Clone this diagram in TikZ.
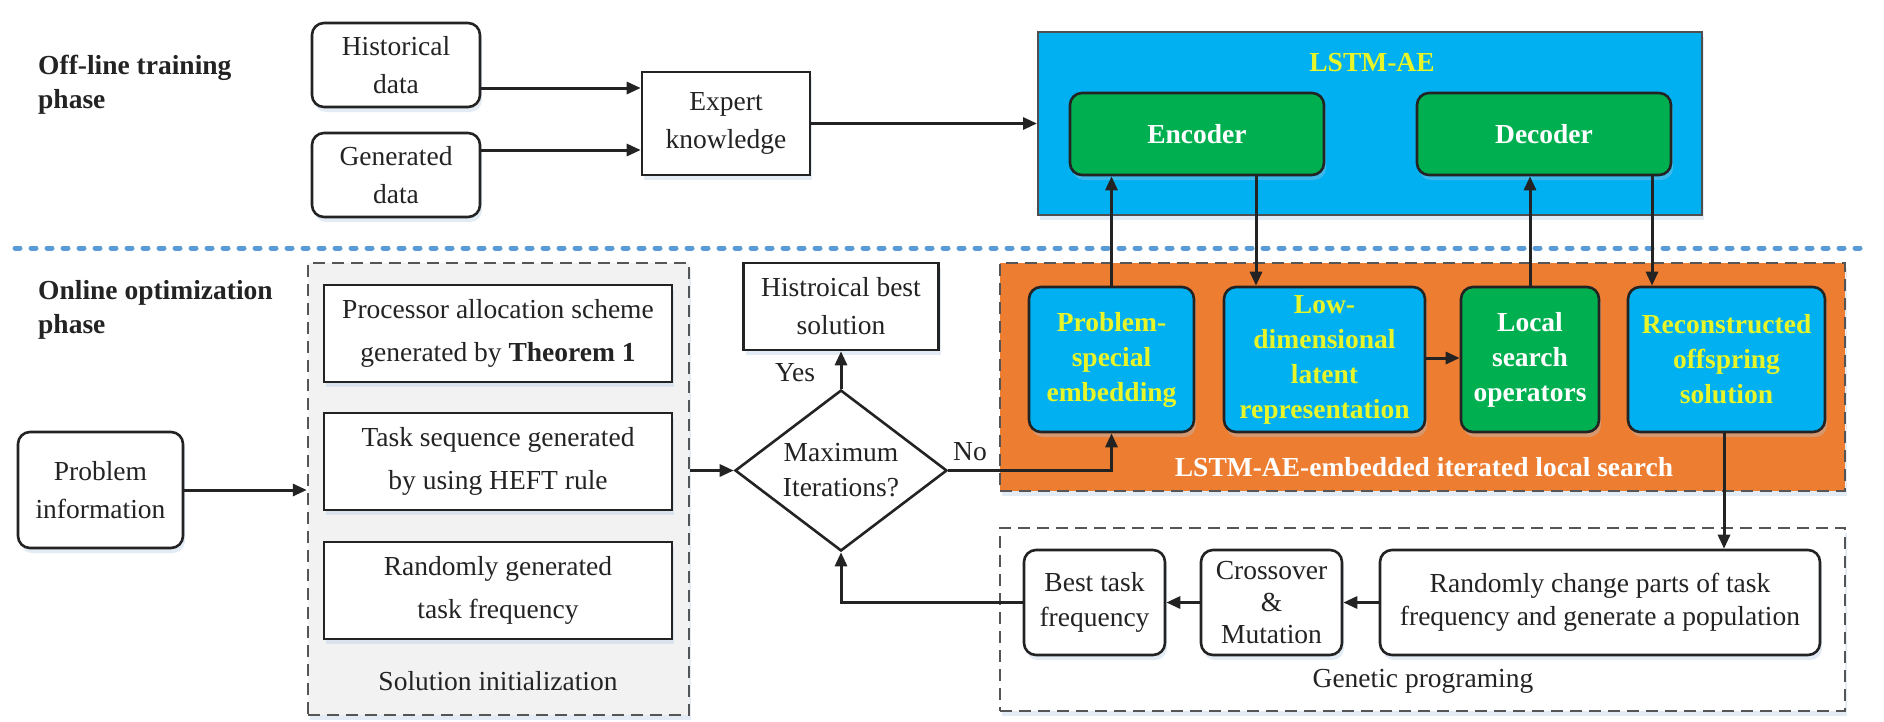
\documentclass[tikz,border=0pt]{standalone}
\usepackage{fontspec}
\setmainfont{Liberation Serif}
\usetikzlibrary{shapes.geometric,arrows.meta,shadows}

\definecolor{ink}{RGB}{35,35,35}
\definecolor{boxblue}{RGB}{0,176,240}
\definecolor{boxgreen}{RGB}{0,176,80}
\definecolor{boxorange}{RGB}{237,125,49}
\definecolor{labyellow}{RGB}{232,245,40}
\definecolor{sepblue}{RGB}{91,155,213}
\definecolor{panelgray}{RGB}{242,242,242}
\definecolor{dashgray}{RGB}{85,85,85}
\definecolor{shadowblue}{RGB}{175,200,228}

\begin{document}
\begin{tikzpicture}[x=1pt,y=-1pt,
  every node/.style={font=\fontsize{27.5}{38}\selectfont, text=ink, align=center, inner sep=0pt},
  softshadow/.style={drop shadow={shadow xshift=2pt,shadow yshift=-5pt,opacity=0.35,fill=shadowblue}},
  plainbox/.style={draw=ink, line width=2.6pt, fill=white, softshadow},
  rbox/.style={plainbox, rounded corners=12pt},
  colbox/.style={draw=ink, line width=2.6pt, rounded corners=12pt, softshadow,
                 font=\fontsize{27.5}{35}\selectfont\bfseries},
  panel/.style={draw=dashgray, line width=2.4pt, dash pattern=on 12pt off 7pt, softshadow},
  phase/.style={font=\fontsize{27.5}{34}\selectfont\bfseries, align=left, anchor=west},
  arr/.style={draw=ink, line width=3pt, -{Triangle[length=14pt,width=12pt]}},
  sepline/.style={draw=sepblue, line width=5pt, line cap=round, dash pattern=on 5pt off 11pt},
]
% canvas
\fill[white] (0,0) rectangle (1884,721);
\useasboundingbox (0,0) rectangle (1884,721);

% ---------- off-line training phase ----------
\node[phase] (offl) at (38,85) {Off-line training\\phase};
\node[rbox, minimum width=168pt, minimum height=84pt] (hist) at (396,65) {Historical\\data};
\node[rbox, minimum width=168pt, minimum height=84pt] (gen) at (396,175) {Generated\\data};
\node[plainbox, minimum width=168pt, minimum height=103pt] (expert) at (726,123.5) {Expert\\knowledge};

\node[draw=ink!80, line width=2pt, fill=boxblue, minimum width=664pt, minimum height=183pt, softshadow] (lstm) at (1370,123.5) {};
\node[text=labyellow, font=\fontsize{27.5}{34}\selectfont\bfseries] (lstmtitle) at (1372,63) {LSTM-AE};
\node[colbox, fill=boxgreen, text=white, minimum width=254pt, minimum height=82pt] (enc) at (1197,134) {Encoder};
\node[colbox, fill=boxgreen, text=white, minimum width=254pt, minimum height=82pt] (dec) at (1544,134) {Decoder};

% ---------- separator ----------
\coordinate (sepL) at (15,248);
\coordinate (sepR) at (1862,248);
\draw[sepline] (sepL) -- (sepR);

% ---------- online optimization phase ----------
\node[phase] (onl) at (38,309.5) {Online optimization\\phase};

\node[panel, fill=panelgray, minimum width=381pt, minimum height=452pt] (solinit) at (498.5,489) {};
\node[plainbox, minimum width=348pt, minimum height=97pt, font=\fontsize{27.5}{43}\selectfont] (proc) at (498,333.5) {Processor allocation scheme\\generated by \textbf{Theorem 1}};
\node[plainbox, minimum width=348pt, minimum height=97pt, font=\fontsize{27.5}{43}\selectfont] (taskseq) at (498,461.5) {Task sequence generated\\by using HEFT rule};
\node[plainbox, minimum width=348pt, minimum height=97pt, font=\fontsize{27.5}{43}\selectfont] (randgen) at (498,590.5) {Randomly generated\\task frequency};
\node (sollab) at (498,681) {Solution initialization};

\node[rbox, minimum width=165pt, minimum height=116pt] (prob) at (100.5,490) {Problem\\information};

\node[plainbox, minimum width=195pt, minimum height=87pt] (hbest) at (841,306.5) {Histroical best\\solution};
\node[diamond, draw=ink, line width=2.6pt, fill=white, minimum width=212pt, minimum height=161pt] (dia) at (841,470.5) {};
\node[font=\fontsize{27.5}{35}\selectfont] (dialab) at (dia) {Maximum\\Iterations?};
\node (yes) at (795,373) {Yes};
\node (no) at (970,452) {No};

% LSTM-AE-embedded iterated local search
\node[panel, fill=boxorange, minimum width=845pt, minimum height=228pt] (ils) at (1422.5,377) {};
\node[colbox, fill=boxblue, text=labyellow, minimum width=165pt, minimum height=145pt] (pse) at (1111.5,359.5) {Problem-\\special\\embedding};
\node[colbox, fill=boxblue, text=labyellow, minimum width=201pt, minimum height=145pt] (lowdim) at (1324.5,359.5) {Low-\\dimensional\\latent\\representation};
\node[colbox, fill=boxgreen, text=white, minimum width=138pt, minimum height=145pt] (lso) at (1530,359.5) {Local\\search\\operators};
\node[colbox, fill=boxblue, text=labyellow, minimum width=197pt, minimum height=145pt] (recon) at (1726.5,359.5) {Reconstructed\\offspring\\solution};
\node[text=white, font=\fontsize{27.5}{34}\selectfont\bfseries] (ilslab) at (1424,467) {LSTM-AE-embedded iterated local search};

% genetic programing
\node[panel, fill=white, minimum width=845pt, minimum height=183pt] (gp) at (1422.5,619.5) {};
\node[rbox, minimum width=141pt, minimum height=105pt, font=\fontsize{27.5}{35}\selectfont] (besttf) at (1094.5,602.5) {Best task\\frequency};
\node[rbox, minimum width=141pt, minimum height=105pt, font=\fontsize{27.5}{32}\selectfont] (cross) at (1271.5,602.5) {Crossover\\\&\\Mutation};
\node[rbox, minimum width=440pt, minimum height=105pt, font=\fontsize{27.5}{33}\selectfont] (randch) at (1600,602.5) {Randomly change parts of task\\frequency and generate a population};
\node (gplab) at (1423,681) {Genetic programing};

% ---------- connectors ----------
\draw[arr] (hist.east |- 0,88) -- (expert.west |- 0,88);
\draw[arr] (gen.east |- 0,150) -- (expert.west |- 0,150);
\draw[arr] (expert.east) -- (lstm.west);
\draw[arr] (pse.north) -- (pse.north |- enc.south);
\draw[arr] (enc.south -| 1256,0) -- (lowdim.north -| 1256,0);
\draw[arr] (lso.north) -- (lso.north |- dec.south);
\draw[arr] (dec.south -| 1652,0) -- (recon.north -| 1652,0);
\draw[arr] (lowdim.east |- 0,358) -- (lso.west |- 0,358);
\draw[arr] (recon.south -| 1724,0) -- (randch.north -| 1724,0);
\draw[arr] (randch.west) -- (cross.east);
\draw[arr] (cross.west) -- (besttf.east);
\draw[arr] (besttf.west) -| (dia.south);
\draw[arr] (prob.east) -- (solinit.west |- prob.east);
\draw[arr] (solinit.east |- dia.west) -- (dia.west);
\draw[arr] (dia.north) -- (hbest.south);
\draw[arr] (dia.east) -| (pse.south);
\end{tikzpicture}
\end{document}
